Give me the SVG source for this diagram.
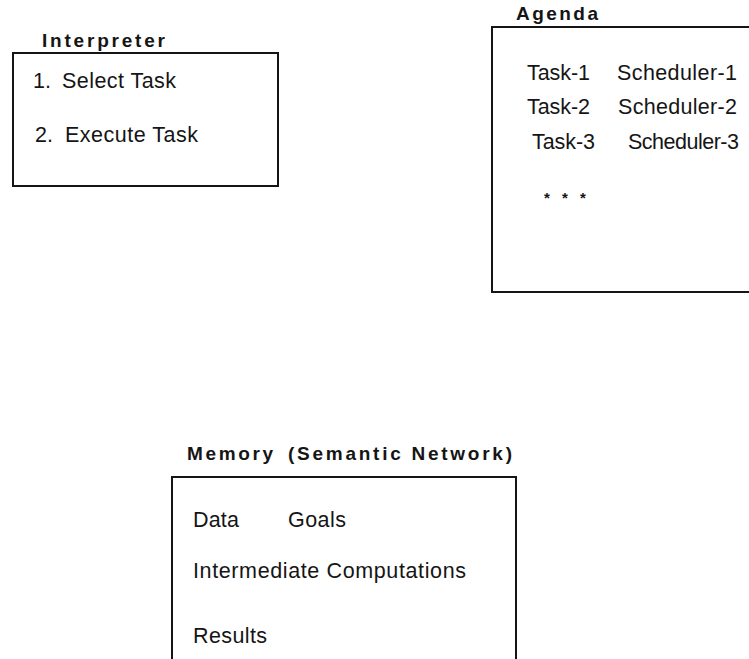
<svg xmlns="http://www.w3.org/2000/svg" width="749" height="659" viewBox="0 0 749 659">
  <style>
    .frame { fill: none; stroke: #151515; stroke-width: 2; }
    .title { font-family: "Liberation Sans", Arial, sans-serif; font-size: 19px; font-weight: bold; fill: #151515; }
    .body { font-family: "Liberation Sans", Arial, sans-serif; font-size: 21.5px; fill: #151515; }
    .star { font-family: "Liberation Sans", Arial, sans-serif; font-size: 15px; font-weight: bold; fill: #151515; }
  </style>
  <rect width="749" height="659" fill="#ffffff"/>

  <!-- Interpreter -->
  <g id="interpreter">
    <text class="title" x="42" y="47" textLength="123" lengthAdjust="spacing">Interpreter</text>
    <rect class="frame" x="13" y="53" width="265" height="133"/>
    <text class="body" y="88"><tspan x="33">1.</tspan><tspan x="62" textLength="114" lengthAdjust="spacing">Select Task</tspan></text>
    <text class="body" y="142"><tspan x="35">2.</tspan><tspan x="65" textLength="133" lengthAdjust="spacing">Execute Task</tspan></text>
  </g>

  <!-- Agenda (frame runs off the right edge) -->
  <g id="agenda">
    <text class="title" x="516" y="20" textLength="82" lengthAdjust="spacing">Agenda</text>
    <path class="frame" d="M 760 27 H 492 V 292 H 760"/>
    <text class="body" x="527" y="80" textLength="63" lengthAdjust="spacing">Task-1</text>
    <text class="body" x="617" y="80" textLength="120" lengthAdjust="spacing">Scheduler-1</text>
    <text class="body" x="527" y="114" textLength="63" lengthAdjust="spacing">Task-2</text>
    <text class="body" x="618" y="114" textLength="119" lengthAdjust="spacing">Scheduler-2</text>
    <text class="body" x="532" y="149" textLength="63" lengthAdjust="spacing">Task-3</text>
    <text class="body" x="628" y="149" textLength="111" lengthAdjust="spacing">Scheduler-3</text>
    <text class="star" x="544" y="203">*</text>
    <text class="star" x="562" y="203">*</text>
    <text class="star" x="580" y="203">*</text>
  </g>

  <!-- Memory (frame runs off the bottom edge) -->
  <g id="memory">
    <text class="title" y="460"><tspan x="187" textLength="86" lengthAdjust="spacing">Memory</tspan><tspan x="288" textLength="224" lengthAdjust="spacing">(Semantic Network)</tspan></text>
    <path class="frame" d="M 172 670 V 477 H 516 V 670"/>
    <text class="body" x="193" y="527" textLength="46" lengthAdjust="spacing">Data</text>
    <text class="body" x="288" y="527" textLength="58" lengthAdjust="spacing">Goals</text>
    <text class="body" x="193" y="578" textLength="273" lengthAdjust="spacing">Intermediate Computations</text>
    <text class="body" x="193" y="643" textLength="74" lengthAdjust="spacing">Results</text>
  </g>
</svg>
